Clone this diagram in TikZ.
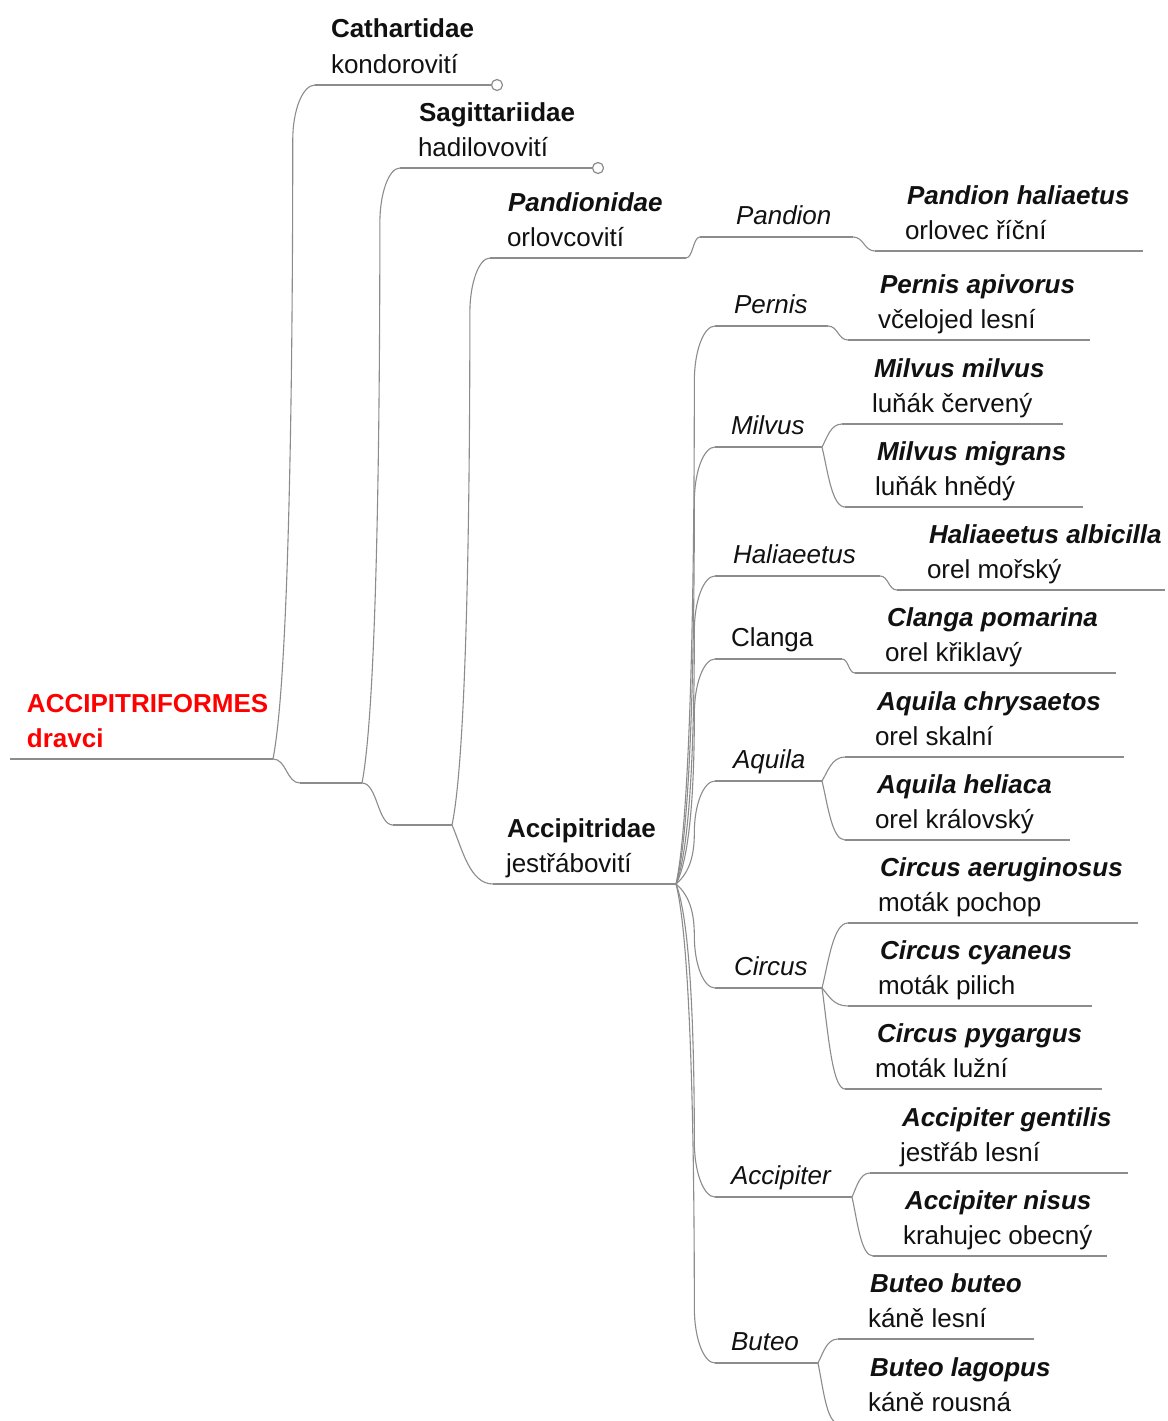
\documentclass[tikz,border=0pt]{standalone}
\usepackage{fontspec}
\setmainfont{Liberation Sans}
\usetikzlibrary{calc}
\definecolor{ln}{HTML}{8C8C8C}
\definecolor{rd}{HTML}{FF0000}
\definecolor{tx}{HTML}{111111}
\tikzset{
 every node/.style={inner sep=0pt, outer sep=0pt, anchor=base west, text=tx, font=\fontsize{26}{30}\selectfont},
 bl/.style={font=\fontsize{26}{30}\selectfont\bfseries},
 bi/.style={font=\fontsize{26}{30}\selectfont\bfseries\itshape},
 it/.style={font=\fontsize{26}{30}\selectfont\itshape},
 rg/.style={font=\fontsize{26}{30}\selectfont},
 rt/.style={font=\fontsize{26}{30}\selectfont\bfseries, text=rd},
 ul/.style={draw=ln, line width=1.2pt},
 conn/.style={draw=ln, line width=1.1pt},
 endc/.style={circle, draw=ln, fill=white, line width=1.2pt, minimum size=11pt, anchor=center},
}
\newcommand\ulin[4]{\coordinate (#1-s) at (#2,#4); \coordinate (#1-e) at (#3,#4); \draw[ul] (#1-s) -- (#1-e);}
% long connector: steep rise, near-vertical run, rounded bend into the child's line
\newcommand\conL[2]{\draw[conn] let \p1=(#1), \p2=(#2),
  \p3=({\x1+0.47*(\x2-\x1)},{\y2-(\y2-\y1)*min(0.5,55/abs(\y2-\y1))}) in
  (\p1) .. controls ({\x1+0.8*(\x3-\x1)},{\y1+0.12*(\y2-\y1)}) and (\x3,{\y3-0.4*(\y3-\y1)}) .. (\p3)
        .. controls (\x3,{\y3+0.55*(\y2-\y3)}) and ({\x2-0.55*(\x2-\x3)},\y2) .. (\p2);}
% medium connector: single smooth curve
\newcommand\conM[2]{\draw[conn] let \p1=(#1), \p2=(#2) in
  (\p1) .. controls ($(\p1)+({0.25*(\x2-\x1)},{0.4*(\y2-\y1)})$) and ($(\p1)+({0.43*(\x2-\x1)},{\y2-\y1})$) .. (\p2);}
% short S connector
\newcommand\conS[2]{\draw[conn] let \p1=(#1), \p2=(#2) in (\p1) .. controls ($(\p1)+({0.5*(\x2-\x1)},0pt)$) and ($(\p2)-({0.5*(\x2-\x1)},0pt)$) .. (\p2);}
\newcommand\species[6]{% name, x1, x2, y, bold-italic text, regular text
 \ulin{#1}{#2}{#3}{#4}
 \node[bi] (#1-a) at (#2+32, #4-47) {#5};
 \node[rg] (#1-b) at (#2+30, #4-11.5) {#6};}
\begin{document}
\begin{tikzpicture}[x=1pt, y=-1pt]
\useasboundingbox (0,0) rectangle (1167,1421);
\clip (0,0) rectangle (1167,1421);
\fill[white] (0,0) rectangle (1167,1421);

% root
\ulin{root}{10}{273}{759}
\node[rt] (root-a) at (27,712) {ACCIPITRIFORMES};
\node[rt] (root-b) at (27,747.5) {dravci};

% Cathartidae
\ulin{cath}{315}{491}{85}
\node[endc] (cath-c) at (497,85) {};
\node[bl] (cath-a) at (331,38) {Cathartidae};
\node[rg] (cath-b) at (331,73.5) {kondorovití};

% unnamed nodes
\ulin{na}{300}{362}{783}
\ulin{nb}{393}{452}{825}

% Sagittariidae
\ulin{sag}{400}{592}{168}
\node[endc] (sag-c) at (598,168) {};
\node[bl] (sag-a) at (419,121) {Sagittariidae};
\node[rg] (sag-b) at (418,156.5) {hadilovovití};

% Pandionidae
\ulin{pand}{490}{686}{258}
\node[bi] (pand-a) at (508,211) {Pandionidae};
\node[rg] (pand-b) at (507,246.5) {orlovcovití};

% Accipitridae
\ulin{acc}{493}{676}{884}
\node[bl] (acc-a) at (507,837) {Accipitridae};
\node[rg] (acc-b) at (506,872.5) {jestřábovití};

% genera
\ulin{gpand}{700}{853}{237}   \node[it] (gpand-t) at (736,224.5) {Pandion};
\ulin{gpern}{715}{828}{326}   \node[it] (gpern-t) at (734,313.5) {Pernis};
\ulin{gmilv}{715}{822}{447}   \node[it] (gmilv-t) at (731,434.5) {Milvus};
\ulin{ghali}{715}{880}{576}   \node[it] (ghali-t) at (733,563.5) {Haliaeetus};
\ulin{gclan}{715}{842}{659}   \node[rg] (gclan-t) at (731,646.5) {Clanga};
\ulin{gaqui}{715}{822}{781}   \node[it] (gaqui-t) at (733,768.5) {Aquila};
\ulin{gcirc}{715}{822}{988}   \node[it] (gcirc-t) at (734,975.5) {Circus};
\ulin{gaccp}{715}{852}{1197}  \node[it] (gaccp-t) at (731,1184.5) {Accipiter};
\ulin{gbute}{715}{818}{1363}  \node[it] (gbute-t) at (731,1350.5) {Buteo};

% species
\species{ph}{875}{1143}{251}{Pandion haliaetus}{orlovec říční}
\species{pa}{848}{1090}{340}{Pernis apivorus}{včelojed lesní}
\species{mm}{842}{1063}{424}{Milvus milvus}{luňák červený}
\species{mg}{845}{1083}{507}{Milvus migrans}{luňák hnědý}
\species{ha}{897}{1165}{590}{Haliaeetus albicilla}{orel mořský}
\species{cp}{855}{1116}{673}{Clanga pomarina}{orel křiklavý}
\species{ac}{845}{1124}{757}{Aquila chrysaetos}{orel skalní}
\species{ah}{845}{1070}{840}{Aquila heliaca}{orel královský}
\species{ca}{848}{1138}{923}{Circus aeruginosus}{moták pochop}
\species{cc}{848}{1092}{1006}{Circus cyaneus}{moták pilich}
\species{cg}{845}{1102}{1089}{Circus pygargus}{moták lužní}
\species{ag}{870}{1128}{1173}{Accipiter gentilis}{jestřáb lesní}
\species{an}{873}{1107}{1256}{Accipiter nisus}{krahujec obecný}
\species{bb}{838}{1034}{1339}{Buteo buteo}{káně lesní}
\species{bg}{838}{1080}{1423}{Buteo lagopus}{káně rousná}

% connectors
\conL{root-e}{cath-s}
\conS{root-e}{na-s}
\conL{na-e}{sag-s}
\conS{na-e}{nb-s}
\conL{nb-e}{pand-s}
\conM{nb-e}{acc-s}
\conS{pand-e}{gpand-s}
\conS{gpand-e}{ph-s}
\conL{acc-e}{gpern-s}
\conL{acc-e}{gmilv-s}
\conL{acc-e}{ghali-s}
\conL{acc-e}{gclan-s}
\conL{acc-e}{gaqui-s}
\conL{acc-e}{gcirc-s}
\conL{acc-e}{gaccp-s}
\conL{acc-e}{gbute-s}
\conS{gpern-e}{pa-s}
\conM{gmilv-e}{mm-s}
\conM{gmilv-e}{mg-s}
\conS{ghali-e}{ha-s}
\conS{gclan-e}{cp-s}
\conM{gaqui-e}{ac-s}
\conM{gaqui-e}{ah-s}
\conM{gcirc-e}{ca-s}
\conM{gcirc-e}{cc-s}
\conM{gcirc-e}{cg-s}
\conM{gaccp-e}{ag-s}
\conM{gaccp-e}{an-s}
\conM{gbute-e}{bb-s}
\conM{gbute-e}{bg-s}
\end{tikzpicture}
\end{document}
